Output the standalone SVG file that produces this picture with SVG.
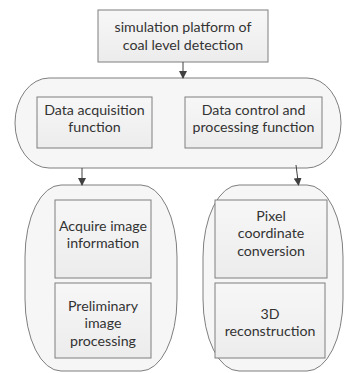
<svg xmlns="http://www.w3.org/2000/svg" width="344" height="373" viewBox="0 0 344 373">
<defs>
<linearGradient id="g" x1="0" y1="0" x2="0" y2="1"><stop offset="0" stop-color="#f7f7f7"/><stop offset="1" stop-color="#ececec"/></linearGradient>
<marker id="ah" markerWidth="8" markerHeight="8" refX="7" refY="4" orient="auto" markerUnits="userSpaceOnUse"><path d="M0,0 L8,4 L0,8 Z" fill="#404040"/></marker>
</defs>
<style>
.box{fill:url(#g);stroke:#7f7f7f;stroke-width:1}
.cont{fill:#f6f6f6;stroke:#7f7f7f;stroke-width:1}
.t{font-family:Lato,"Liberation Sans",sans-serif;font-size:14.2px;fill:#333;text-anchor:middle;dominant-baseline:central}
.c{stroke:#404040;stroke-width:1;fill:none;marker-end:url(#ah)}
</style>
<g id="top"><rect class="box" x="98" y="10" width="170" height="52"/><text class="t" x="183" y="26">simulation platform of</text><text class="t" x="183" y="44">coal level detection</text></g>
<g id="group1"><rect class="cont" x="15" y="78" width="326" height="90" rx="34" ry="45"/></g>
<g id="daq"><rect class="box" x="37" y="97" width="115" height="51"/><text class="t" x="94.5" y="109">Data acquisition</text><text class="t" x="94.5" y="126">function</text></g>
<g id="dcp"><rect class="box" x="185" y="97" width="137" height="51"/><text class="t" x="253.5" y="109">Data control and</text><text class="t" x="253.5" y="126">processing function</text></g>
<g id="group2"><rect class="cont" x="25" y="185" width="152" height="186" rx="36" ry="72"/></g>
<g id="acq"><rect class="box" x="55" y="200" width="96" height="78"/><text class="t" x="103" y="225">Acquire image</text><text class="t" x="103" y="242">information</text></g>
<g id="pre"><rect class="box" x="55" y="283" width="96" height="75"/><text class="t" x="103" y="305">Preliminary</text><text class="t" x="103" y="322">image</text><text class="t" x="103" y="340">processing</text></g>
<g id="group3"><rect class="cont" x="203" y="185" width="140" height="186" rx="36" ry="72"/></g>
<g id="pix"><rect class="box" x="215" y="200" width="112" height="78"/><text class="t" x="271" y="215">Pixel</text><text class="t" x="271" y="232">coordinate</text><text class="t" x="271" y="250">conversion</text></g>
<g id="rec"><rect class="box" x="215" y="283" width="110" height="75"/><text class="t" x="270" y="313">3D</text><text class="t" x="270" y="330">reconstruction</text></g>
<g id="connectors">
<line class="c" x1="183" y1="62" x2="183" y2="78"/>
<line class="c" x1="82" y1="168" x2="82" y2="185"/>
<line class="c" x1="296" y1="165" x2="298.5" y2="185"/>
</g>
</svg>
